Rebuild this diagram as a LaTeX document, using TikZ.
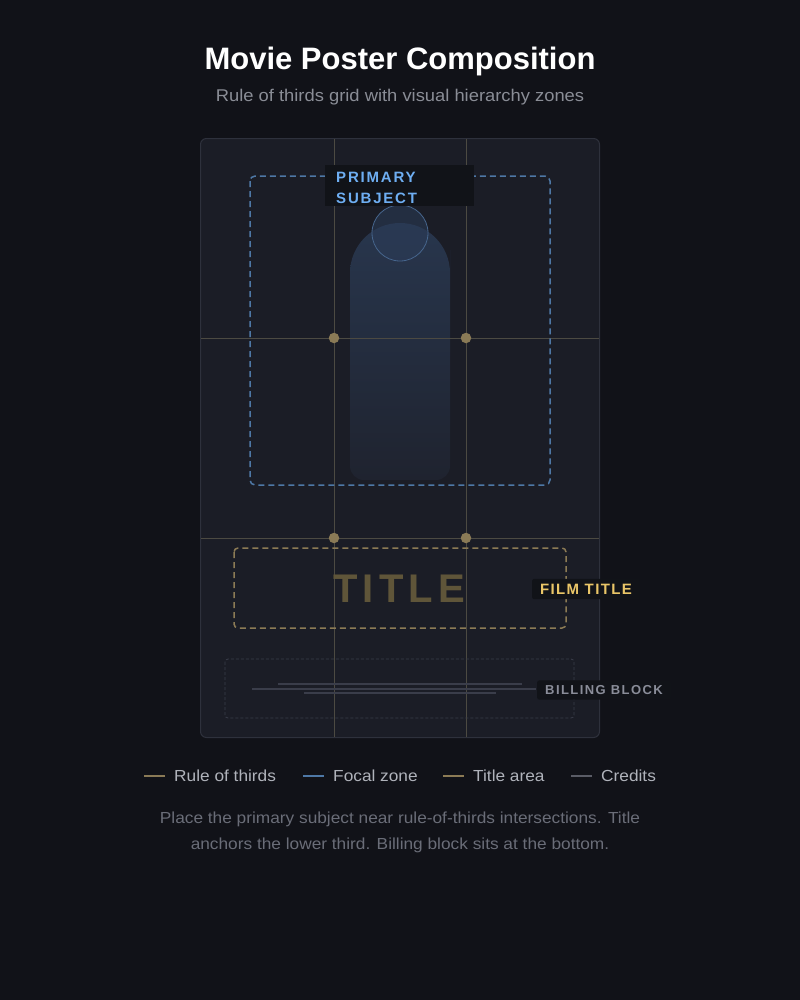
\documentclass[tikz,border=0pt]{standalone}
\usepackage{fontspec}
\setmainfont{Liberation Sans}
\newfontfamily\widefont[FakeStretch=1.08]{Liberation Sans}
\usetikzlibrary{shadings}
\definecolor{bg}{HTML}{111218}
\definecolor{poster}{HTML}{1B1D26}
\definecolor{posteredge}{HTML}{2E313C}
\definecolor{gridc}{HTML}{4C4A42}
\definecolor{dotc}{HTML}{8A7A56}
\definecolor{focal}{HTML}{4E78A6}
\definecolor{focaltxt}{HTML}{6EAEF2}
\definecolor{titlez}{HTML}{8C7B55}
\definecolor{titletxt}{HTML}{5F5539}
\definecolor{filmtxt}{HTML}{EAC668}
\definecolor{billc}{HTML}{3A3D4A}
\definecolor{billtxt}{HTML}{8A8D99}
\definecolor{labelbg}{HTML}{111318}
\definecolor{legtxt}{HTML}{B0B3BB}
\definecolor{captxt}{HTML}{6A6D78}
\definecolor{subtxt}{HTML}{8A8D96}
\definecolor{headfill}{HTML}{2B3C58}
\definecolor{headedge}{HTML}{46658C}
\definecolor{bodytop}{HTML}{28364D}
\definecolor{bodybot}{HTML}{1F232F}
\definecolor{credc}{HTML}{5A5C66}
\tikzset{
  gridline/.style={draw=gridc, line width=0.9bp},
  gdot/.style={circle, fill=dotc, inner sep=0pt, minimum size=10.5bp},
  legline/.style={line width=2bp},
  legtext/.style={text=legtxt, font=\widefont\fontsize{16bp}{19bp}\selectfont, anchor=west, inner sep=0pt}
}
\begin{document}
\begin{tikzpicture}[x=1bp,y=-1bp]
\fill[bg] (0,0) rectangle (800,1000);
\useasboundingbox (0,0) rectangle (800,1000);
% heading
\node[text=white, font=\bfseries\fontsize{31bp}{35bp}\selectfont] (title) at (400,61) {Movie Poster Composition};
\node[text=subtxt, font=\widefont\fontsize{17bp}{20bp}\selectfont] (sub) at (400,97) {Rule of thirds grid with visual hierarchy zones};
% poster
\draw[fill=poster, draw=posteredge, line width=1bp, rounded corners=6bp] (200.5,138.5) rectangle (599.5,737.5);
% body figure
\shade[top color=bodytop, bottom color=bodybot] (400,480) [rounded corners=14bp] -- (350,480) -- (350,300) [rounded corners=50bp] -- (350,223) -- (450,223) -- (450,300) [rounded corners=14bp] -- (450,480) -- cycle;
% head
\fill[headfill, opacity=0.55] (400,233) circle[radius=28bp];
\draw[headedge, line width=0.8bp] (400,233) circle[radius=28bp];
% grid
\coordinate (v1t) at (334,139); \coordinate (v1b) at (334,737);
\coordinate (v2t) at (466,139); \coordinate (v2b) at (466,737);
\coordinate (h1l) at (201,338); \coordinate (h1r) at (599,338);
\coordinate (h2l) at (201,538); \coordinate (h2r) at (599,538);
\draw[gridline] (v1t) -- (v1b);
\draw[gridline] (v2t) -- (v2b);
\draw[gridline] (h1l) -- (h1r);
\draw[gridline] (h2l) -- (h2r);
% focal zone
\draw[focal, line width=1.5bp, dash pattern=on 6bp off 4bp, rounded corners=5bp] (250,176) rectangle (550,485);
% intersection dots
\node[gdot] (d1) at (334,338) {};
\node[gdot] (d2) at (466,338) {};
\node[gdot] (d3) at (334,538) {};
\node[gdot] (d4) at (466,538) {};
% primary subject label
\fill[labelbg] (325,165) rectangle (474,206);
\node[text=focaltxt, font=\bfseries\addfontfeatures{LetterSpace=12}\fontsize{15bp}{21bp}\selectfont, anchor=north west, align=left, inner sep=0pt] (ps) at (336,172) {PRIMARY\\SUBJECT};
% title zone
\draw[titlez, line width=1.5bp, dash pattern=on 6bp off 4bp, rounded corners=4bp] (234,548) rectangle (566,628);
\node[text=titletxt, font=\bfseries\addfontfeatures{LetterSpace=13}\fontsize{40bp}{44bp}\selectfont] (tt) at (399,589) {TITLE};
% film title label
\node[fill=labelbg, text=filmtxt, font=\bfseries\addfontfeatures{LetterSpace=9}\fontsize{15bp}{18bp}\selectfont, inner xsep=8bp, inner ysep=5bp, rounded corners=2bp] (ft) at (586,589) {FILM TITLE};
% billing block
\draw[billc, line width=0.8bp, dash pattern=on 3bp off 2bp, rounded corners=3bp] (225,659) rectangle (574,718);
\coordinate (c1a) at (278,684); \coordinate (c1b) at (522,684);
\coordinate (c2a) at (252,689); \coordinate (c2b) at (536,689);
\coordinate (c3a) at (304,693); \coordinate (c3b) at (496,693);
\draw[billc, line width=1.2bp] (c1a) -- (c1b);
\draw[billc, line width=1.2bp] (c2a) -- (c2b);
\draw[billc, line width=1.2bp] (c3a) -- (c3b);
\node[fill=labelbg, text=billtxt, font=\bfseries\addfontfeatures{LetterSpace=11}\fontsize{13bp}{16bp}\selectfont, inner xsep=8bp, inner ysep=5bp, rounded corners=2bp] (bb) at (604,690) {BILLING BLOCK};
% legend
\coordinate (l1a) at (144,776); \coordinate (l1b) at (165,776);
\draw[legline, dotc] (l1a) -- (l1b);
\node[legtext] (lt1) at (174,776) {Rule of thirds};
\coordinate (l2a) at (303,776); \coordinate (l2b) at (324,776);
\draw[legline, focal] (l2a) -- (l2b);
\node[legtext] (lt2) at (333,776) {Focal zone};
\coordinate (l3a) at (443,776); \coordinate (l3b) at (464,776);
\draw[legline, titlez] (l3a) -- (l3b);
\node[legtext] (lt3) at (473,776) {Title area};
\coordinate (l4a) at (571,776); \coordinate (l4b) at (592,776);
\draw[legline, credc] (l4a) -- (l4b);
\node[legtext] (lt4) at (601,776) {Credits};
% caption
\node[text=captxt, font=\widefont\fontsize{16bp}{26bp}\selectfont, align=center] (cap) at (400,832) {Place the primary subject near rule-of-thirds intersections. Title\\anchors the lower third. Billing block sits at the bottom.};
\end{tikzpicture}
\end{document}
